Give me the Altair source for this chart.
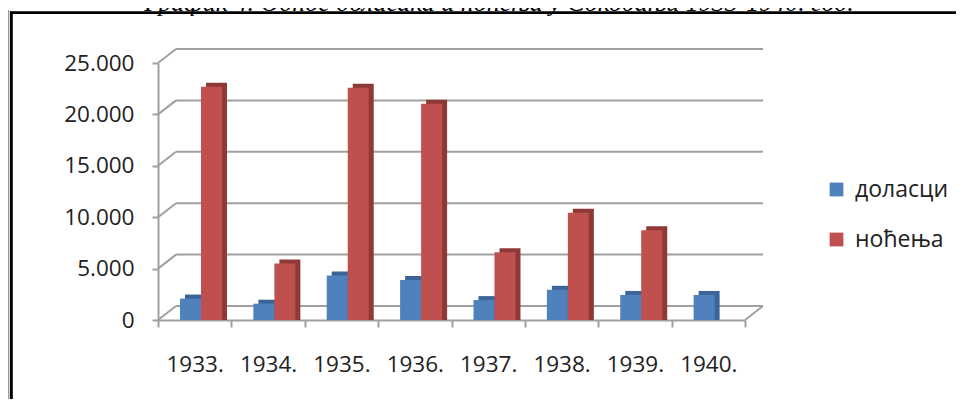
import altair as alt
import pandas as pd

# ---- data ----
years = ["1933.", "1934.", "1935.", "1936.", "1937.", "1938.", "1939.", "1940."]
arrivals = [1600, 1100, 3850, 3400, 1450, 2450, 1950, 1950]          # доласци
overnights = [22200, 5000, 22100, 20550, 6100, 9950, 8250, None]     # ноћења
series = ["доласци", "ноћења"]
front_colors = ["#4f81bd", "#c0504d"]
side_colors = ["#3b6599", "#8e3936"]
y_ticks = [0, 5000, 10000, 15000, 20000, 25000]
title_text = "График 4. Однос доласака и ноћења у Сокобањи 1933-1940. год."

rows = []
for yr, a, o in zip(years, arrivals, overnights):
    rows.append({"year": yr, "series": series[0], "value": a})
    if o is not None:
        rows.append({"year": yr, "series": series[1], "value": o})
bars_df = pd.DataFrame(rows)
ticks_df = pd.DataFrame({"value": y_ticks})
floor_df = pd.DataFrame({"value": [0]})

W, H = 587, 257
DX, DY = 18, 14          # back-wall depth
BAR_W = 21
FACE_X, FACE_Y = 5, 4    # 3D face thickness
BY = -5                  # bars sit a little behind the front plane
bar_pos = [-4.2, 16.8]   # bar centre offset from the category centre
GRID = "#a0a0a0"
FONT = "Open Sans"
LABEL = "#222222"

x_axis = alt.Axis(title=None, tickBand="extent", tickSize=7, tickWidth=2,
                  tickColor=GRID, domainColor=GRID, domainWidth=2,
                  labelAngle=0, labelPadding=26, labelFont=FONT,
                  labelFontSize=22.5, labelColor=LABEL)
y_axis = alt.Axis(title=None, values=y_ticks, grid=False,
                  labelExpr="replace(format(datum.value, ','), ',', '.')",
                  tickSize=6, tickWidth=2, tickColor=GRID,
                  domainColor=GRID, domainWidth=2, labelPadding=18,
                  labelFont=FONT, labelFontSize=22.5, labelColor=LABEL)
x_scale = alt.Scale(domain=years, paddingInner=0, paddingOuter=0)
y_scale = alt.Scale(domain=[0, 25000], nice=False)


def X():
    return alt.X("year:N", sort=years, scale=x_scale, axis=x_axis)


def Y():
    return alt.Y("value:Q", stack=False, scale=y_scale, axis=y_axis)


# back wall gridlines
grid = alt.Chart(ticks_df).mark_rule(color=GRID, strokeWidth=2, yOffset=-DY).encode(
    y=Y(), x=alt.value(DX), x2=alt.value(W + DX),
)
# slanted connectors from the front axis ticks to the back wall
conn = alt.Chart(ticks_df).mark_rule(color=GRID, strokeWidth=2, y2Offset=-DY).encode(
    y=Y(), y2=alt.Y2("value"), x=alt.value(0), x2=alt.value(DX),
)
floor_conn = alt.Chart(floor_df).mark_rule(color=GRID, strokeWidth=2, y2Offset=-DY).encode(
    y=Y(), y2=alt.Y2("value"), x=alt.value(W), x2=alt.value(W + DX),
)

dark_layers = []
front_layers = []
for i, s in enumerate(series):
    base = alt.Chart(bars_df).transform_filter(alt.datum.series == s)
    dark_layers.append(
        base.mark_bar(width=BAR_W, xOffset=bar_pos[i] + FACE_X,
                      yOffset=BY - FACE_Y, y2Offset=BY - FACE_Y,
                      color=side_colors[i]).encode(x=X(), y=Y())
    )
    front_layers.append(
        base.mark_bar(width=BAR_W, xOffset=bar_pos[i], yOffset=BY, y2Offset=BY).encode(
            x=X(), y=Y(),
            color=alt.Color("series:N",
                            scale=alt.Scale(domain=series, range=front_colors),
                            legend=alt.Legend(title=None, orient="none",
                                              legendX=667, legendY=115,
                                              symbolType="square", symbolSize=190,
                                              symbolStrokeWidth=0, labelFont=FONT,
                                              labelFontSize=23, labelColor=LABEL,
                                              rowPadding=26, labelOffset=7, padding=0)),
        )
    )

# title (cut off at the top in the reference)
title = alt.Chart(pd.DataFrame({"t": [title_text]})).mark_text(
    font="Liberation Serif", fontStyle="italic", fontSize=26,
    align="center", baseline="alphabetic", color="#000000"
).encode(text="t:N", x=alt.value(341), y=alt.value(-52.5))

# frame
frame_df = pd.DataFrame({"k": [0]})
frame_left_gray = alt.Chart(frame_df).mark_rule(color="#9a9a9a", strokeWidth=1.5).encode(
    x=alt.value(-149.3), y=alt.value(-53), y2=alt.value(360))
frame_left = alt.Chart(frame_df).mark_rule(color="#000000", strokeWidth=2.8).encode(
    x=alt.value(-146.6), y=alt.value(-51.5), y2=alt.value(360))
frame_top = alt.Chart(frame_df).mark_rule(color="#000000", strokeWidth=2.8).encode(
    y=alt.value(-50.4), x=alt.value(-148), x2=alt.value(820))

chart = alt.layer(
    grid, conn, floor_conn, *dark_layers, *front_layers,
    title, frame_left_gray, frame_left, frame_top
).properties(
    width=W, height=H,
    autosize=alt.AutoSizeParams(type="none"),
    padding={"left": 150, "top": 55, "right": 211, "bottom": 79},
    background="white",
).configure_view(stroke=None)

chart.save("out.html", embed_options={"renderer": "svg", "actions": False})
